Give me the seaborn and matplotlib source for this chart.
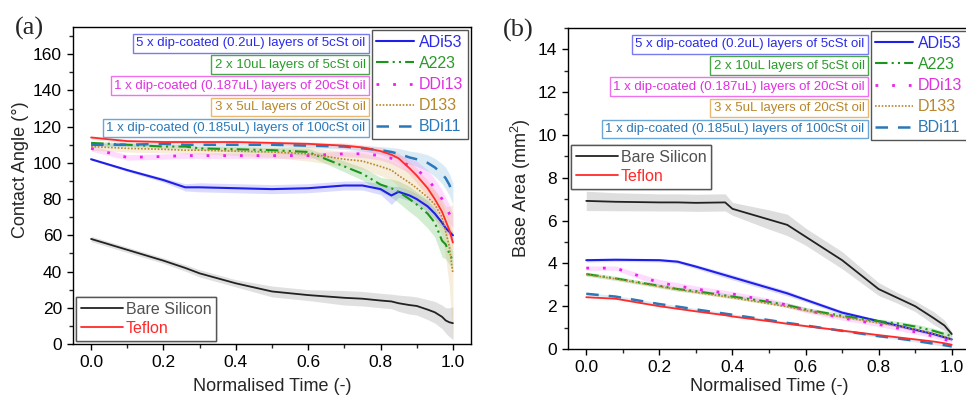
import numpy as np
import matplotlib
matplotlib.use("Agg")
import matplotlib.pyplot as plt
from matplotlib.lines import Line2D
from matplotlib.ticker import MultipleLocator, FormatStrFormatter
import seaborn as sns

# ---------------- data ----------------
series_names = ["ADi53", "A223", "DDi13", "D133", "BDi11"]
series_desc = [
    "5 x dip-coated (0.2uL) layers of 5cSt oil",
    "2 x 10uL layers of 5cSt oil",
    "1 x dip-coated (0.187uL) layers of 20cSt oil",
    "3 x 5uL layers of 20cSt oil",
    "1 x dip-coated (0.185uL) layers of 100cSt oil",
]
ref_names = ["Bare Silicon", "Teflon"]

# (a) contact angle vs normalised time
t_angle = [0.0, 0.1, 0.2, 0.26, 0.3, 0.4, 0.5, 0.6, 0.7, 0.75, 0.8,
           0.83, 0.85, 0.88, 0.9, 0.93, 0.95, 0.97, 0.98, 0.99, 1.0]
angle_adi53 = [102, 96, 90.5, 86.5, 86.5, 86, 85.5, 86, 87.5, 87.5, 85.5,
               82, 84, 82, 80, 76, 72, 67, 64, 62, 60]
angle_adi53_sd = [0.5, 0.8, 1.2, 2, 2.5, 2.5, 2.5, 2.5, 2.5, 2.5, 3,
                  5, 3, 3, 3, 3, 3, 2.5, 2.5, 2, 2]
angle_a223 = [111, 110, 109, 109, 108, 107.5, 107, 106, 98, 94, 88,
              86, 84, 80, 77, 72, 67, 57, 55, 50, 46]
angle_a223_sd = [1, 1, 1, 1, 1, 1.5, 1.5, 2, 3, 3.5, 4,
                 5, 6, 7, 7, 8, 8, 9, 8, 6, 5]
angle_ddi13 = [108, 103, 103.5, 104, 104, 104, 104, 104, 105, 105, 104,
               102.5, 101, 98.5, 96.5, 91, 86, 80, 76, 72, 68]
angle_ddi13_sd = [1.5, 1.5, 1.5, 1.5, 1.5, 1.5, 1.5, 1.5, 1.5, 2, 2.5,
                  3, 3.5, 4, 4.5, 5, 5, 5, 5, 5, 4]
angle_d133 = [109, 108, 107.5, 107, 107, 106.5, 106, 105, 102, 101, 98,
              96, 93, 89, 86, 81, 77, 70, 62, 54, 39]
angle_d133_sd = [2, 2, 2, 2, 2, 2.5, 3, 4, 4, 4.5, 5,
                 5.5, 6, 6, 6.5, 7, 8, 10, 14, 22, 38]
angle_bdi11 = [110, 110, 110.5, 110, 110, 110, 110, 109.5, 109, 108, 107,
               106, 105, 103, 102, 100, 97.5, 94, 91.5, 88, 83]
angle_bdi11_sd = [1, 1, 1, 1, 1, 1, 1, 1, 1.5, 1.5, 2,
                  2.5, 3, 3.5, 4, 4.5, 5, 5.5, 6, 6, 6]
angle_silicon = [58, 52, 46, 42, 39, 33.5, 29, 27, 25.5, 25, 24,
                 23.5, 22.5, 21.5, 21, 19, 17.5, 15, 13, 12, 11.5]
angle_silicon_sd = [1.5, 1.5, 1.5, 1.8, 2, 2, 3, 3, 4, 4, 4,
                    4, 4.5, 5, 5, 5.5, 6, 6.5, 7, 8, 9]
angle_teflon = [114, 112, 111.5, 111.5, 111.5, 111.5, 111, 110.5, 109.5, 108.5, 106.5,
                104.5, 102.5, 97, 93, 86, 80, 73, 68, 63, 56]
angle_teflon_sd = [1, 1, 1, 1, 1, 1, 1, 1, 1.5, 1.5, 2,
                   2.5, 3, 3.5, 4, 4.5, 5, 5, 5, 5, 4]

# (b) base area vs normalised time
t_area = [0.0, 0.08, 0.2, 0.25, 0.3, 0.38, 0.4, 0.5, 0.55, 0.6, 0.7,
          0.8, 0.85, 0.9, 0.95, 0.98, 1.0]
area_adi53 = [4.15, 4.17, 4.15, 4.08, 3.85, 3.45, 3.35, 2.85, 2.6, 2.3, 1.7,
              1.3, 1.1, 0.9, 0.7, 0.55, 0.45]
area_adi53_sd = [0.08, 0.08, 0.08, 0.08, 0.1, 0.12, 0.12, 0.12, 0.12, 0.1, 0.1,
                 0.08, 0.08, 0.08, 0.08, 0.08, 0.06]
area_a223 = [3.5, 3.3, 2.95, 2.8, 2.7, 2.5, 2.45, 2.2, 2.05, 1.85, 1.55,
             1.3, 1.2, 1.05, 0.85, 0.7, 0.6]
area_a223_sd = [0.1, 0.1, 0.1, 0.1, 0.1, 0.1, 0.1, 0.1, 0.1, 0.1, 0.1,
                0.1, 0.1, 0.12, 0.12, 0.12, 0.1]
area_ddi13 = [3.78, 3.78, 3.1, 2.95, 2.8, 2.62, 2.57, 2.25, 2.05, 1.82, 1.45,
              1.15, 0.98, 0.8, 0.6, 0.45, 0.35]
area_ddi13_sd = [0.1, 0.1, 0.15, 0.15, 0.15, 0.12, 0.12, 0.12, 0.12, 0.12, 0.1,
                 0.1, 0.1, 0.1, 0.08, 0.08, 0.06]
area_d133 = [3.48, 3.28, 2.92, 2.78, 2.65, 2.45, 2.4, 2.12, 1.98, 1.8, 1.5,
             1.22, 1.08, 0.92, 0.72, 0.58, 0.45]
area_d133_sd = [0.05, 0.05, 0.05, 0.05, 0.05, 0.05, 0.05, 0.05, 0.05, 0.05, 0.05,
                0.05, 0.05, 0.05, 0.05, 0.05, 0.05]
area_bdi11 = [2.58, 2.45, 2.1, 1.98, 1.85, 1.65, 1.6, 1.35, 1.22, 1.1, 0.85,
              0.6, 0.5, 0.38, 0.25, 0.18, 0.12]
area_bdi11_sd = [0.05, 0.05, 0.05, 0.05, 0.05, 0.05, 0.05, 0.05, 0.05, 0.05, 0.05,
                 0.05, 0.05, 0.05, 0.05, 0.05, 0.05]
area_silicon = [6.92, 6.88, 6.85, 6.85, 6.83, 6.85, 6.55, 6.05, 5.8, 5.25, 4.15,
                2.8, 2.4, 2.0, 1.45, 1.1, 0.7]
area_silicon_sd = [0.45, 0.42, 0.4, 0.4, 0.4, 0.4, 0.3, 0.45, 0.5, 0.4, 0.4,
                   0.3, 0.25, 0.25, 0.3, 0.25, 0.12]
area_teflon = [2.42, 2.35, 2.0, 1.88, 1.76, 1.58, 1.52, 1.3, 1.18, 1.07, 0.86,
               0.65, 0.55, 0.45, 0.35, 0.27, 0.2]
area_teflon_sd = [0.03, 0.03, 0.03, 0.03, 0.03, 0.03, 0.03, 0.03, 0.03, 0.03, 0.03,
                  0.03, 0.03, 0.03, 0.03, 0.03, 0.03]

# ---------------- styling ----------------
line_colors = ["#1f1fe8", "#1a961a", "#ea22ea", "#b8862b", "#2a78b8"]
text_colors = ["#2a2ae8", "#2a9a2a", "#e030e0", "#b8862b", "#2a78b8"]
box_colors = ["#7a7af0", "#4aa84a", "#f070f0", "#e8b870", "#6aa6d6"]
band_colors = ["#8080ff", "#60c060", "#ff80ff", "#e0c080", "#80b8e0"]
line_styles = ["-", (0, (6, 2, 1, 2, 1, 2)), (0, (1, 5)), (0, (1, 1)), (0, (5, 4))]
line_widths = [1.5, 1.5, 2.0, 1.2, 1.8]
ref_colors = ["#222222", "#ff2a2a"]
ref_text_colors = ["#505050", "#ff2a2a"]
ref_band_colors = ["#c8c8c8", "#ffa0a0"]

sns.set_style("ticks")
plt.rcParams["font.family"] = ["Liberation Sans", "DejaVu Sans"]
plt.rcParams["mathtext.fontset"] = "custom"
plt.rcParams["mathtext.rm"] = "Liberation Sans"
plt.rcParams["mathtext.it"] = "Liberation Sans"

W, H = 966, 397
fig = plt.figure(figsize=(W / 100, H / 100), dpi=100)
fig.patch.set_facecolor("white")


def px_axes(x0, y0, x1, y1):
    return fig.add_axes([x0 / W, 1 - y1 / H, (x1 - x0) / W, (y1 - y0) / H])


ax_a = px_axes(73, 27, 471, 344)
ax_b = px_axes(568, 28, 970, 349)


def draw(ax, t, mean, sd, color, band, ls, lw, alpha):
    m = np.asarray(mean, float)
    s = np.asarray(sd, float)
    ax.fill_between(t, np.clip(m - s, 0, None), m + s, color=band, alpha=alpha, lw=0)
    sns.lineplot(x=t, y=mean, ax=ax, color=color, linestyle=ls, lw=lw,
                 legend=False, errorbar=None)


angle_means = [angle_adi53, angle_a223, angle_ddi13, angle_d133, angle_bdi11]
angle_sds = [angle_adi53_sd, angle_a223_sd, angle_ddi13_sd, angle_d133_sd, angle_bdi11_sd]
area_means = [area_adi53, area_a223, area_ddi13, area_d133, area_bdi11]
area_sds = [area_adi53_sd, area_a223_sd, area_ddi13_sd, area_d133_sd, area_bdi11_sd]

# reference surfaces first so coated series sit on top
draw(ax_a, t_angle, angle_silicon, angle_silicon_sd, ref_colors[0], ref_band_colors[0], "-", 1.3, 0.55)
draw(ax_b, t_area, area_silicon, area_silicon_sd, ref_colors[0], ref_band_colors[0], "-", 1.3, 0.6)
for i in range(5):
    draw(ax_a, t_angle, angle_means[i], angle_sds[i], line_colors[i], band_colors[i],
         line_styles[i], line_widths[i], 0.28)
    draw(ax_b, t_area, area_means[i], area_sds[i], line_colors[i], band_colors[i],
         line_styles[i], line_widths[i], 0.28)
draw(ax_a, t_angle, angle_teflon, angle_teflon_sd, ref_colors[1], ref_band_colors[1], "-", 1.3, 0.3)
draw(ax_b, t_area, area_teflon, area_teflon_sd, ref_colors[1], ref_band_colors[1], "-", 1.3, 0.3)

# axes formatting
for ax, ylim, ymaj, ymin, ylabel, xpad in [
    (ax_a, (0, 175), 20, 10, "Contact Angle (°)", 6),
    (ax_b, (0, 15), 2, 1, "Base Area (mm$^2$)", 2),
]:
    ax.set_xlim(-0.05, 1.05)
    ax.set_ylim(*ylim)
    ax.xaxis.set_major_locator(MultipleLocator(0.2))
    ax.xaxis.set_minor_locator(MultipleLocator(0.1))
    ax.yaxis.set_major_locator(MultipleLocator(ymaj))
    ax.yaxis.set_minor_locator(MultipleLocator(ymin))
    ax.xaxis.set_major_formatter(FormatStrFormatter("%.1f"))
    ax.tick_params(which="major", direction="out", length=4.5, width=1, labelsize=12.5,
                   colors="black", pad=3.5, top=False, right=False)
    ax.tick_params(which="minor", direction="out", length=2.6, width=1, top=False, right=False)
    for sp in ax.spines.values():
        sp.set_visible(True)
        sp.set_color("black")
        sp.set_linewidth(1.0)
    ax.set_xlabel("Normalised Time (-)", fontsize=13, labelpad=xpad)
    ax.set_ylabel(ylabel, fontsize=13)
    ax.set_facecolor("white")

# y-label placement (right edge of the rotated text, vertical centre)
ax_a.yaxis.set_label_coords((29 - 73) / 398, 0.55)
ax_b.yaxis.set_label_coords((533 - 568) / 402, 0.5)

fig.text(15 / W, 1 - 35 / H, "(a)", fontsize=19, family="Liberation Serif", ha="left", va="baseline")
fig.text(503 / W, 1 - 37 / H, "(b)", fontsize=19, family="Liberation Serif", ha="left", va="baseline")


def series_legend(ax):
    handles = [Line2D([], [], color=c, ls=s, lw=w)
               for c, s, w in zip(line_colors, line_styles, line_widths)]
    leg = ax.legend(handles, series_names, loc="upper right", fontsize=11.5,
                    frameon=True, fancybox=False, edgecolor="#555555", framealpha=1,
                    handlelength=2.35, handletextpad=0.3, labelspacing=0.38,
                    borderpad=0.3, borderaxespad=0.2, labelcolor=text_colors)
    leg.get_frame().set_linewidth(1.0)
    ax.add_artist(leg)
    return leg


def ref_legend(ax, anchor):
    handles = [Line2D([], [], color=c, lw=1.3) for c in ref_colors]
    leg = ax.legend(handles, ref_names, loc="lower left", bbox_to_anchor=anchor,
                    fontsize=11.5, frameon=True, fancybox=False, edgecolor="#555555",
                    framealpha=1, handlelength=2.6, handletextpad=0.2,
                    labelspacing=0.25, borderpad=0.3, borderaxespad=0.2,
                    labelcolor=ref_text_colors)
    leg.get_frame().set_linewidth(1.0)
    ax.add_artist(leg)
    return leg


leg_a = series_legend(ax_a)
leg_b = series_legend(ax_b)
ref_legend(ax_a, (0.0, 0.0))
ref_legend(ax_b, (0.0, 0.49))

# descriptive boxes to the left of each legend row
fig.canvas.draw()
renderer = fig.canvas.get_renderer()
for ax, leg in [(ax_a, leg_a), (ax_b, leg_b)]:
    lbb = leg.get_window_extent(renderer)
    inv = ax.transAxes.inverted()
    for i, txt in enumerate(leg.get_texts()):
        tb = txt.get_window_extent(renderer)
        yc = (tb.y0 + tb.y1) / 2 - 1
        xr = lbb.x0 - 6
        xa, ya = inv.transform((xr, yc))
        ax.text(xa, ya, series_desc[i], transform=ax.transAxes, ha="right", va="center",
                fontsize=9.5, color=text_colors[i],
                bbox=dict(boxstyle="square,pad=0.24", fc="white", ec=box_colors[i], lw=1.0))

fig.savefig("out.png", dpi=100, facecolor="white")
